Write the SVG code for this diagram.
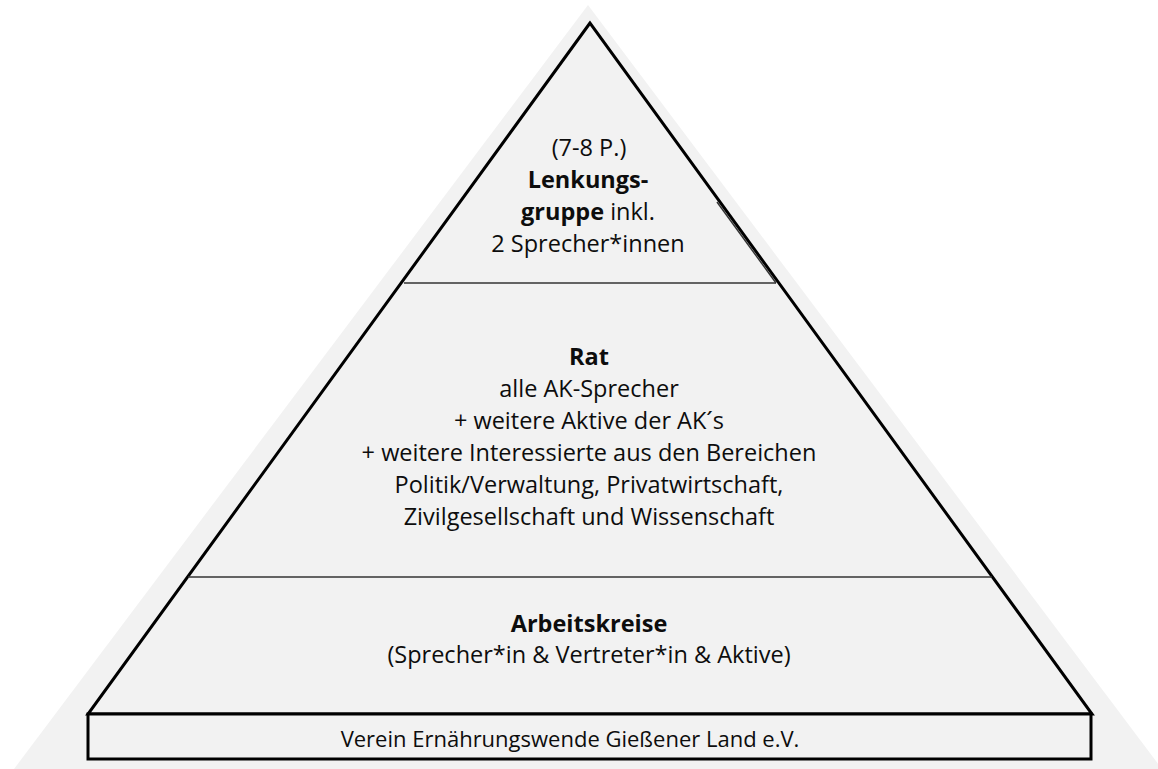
<svg xmlns="http://www.w3.org/2000/svg" width="1158" height="769" viewBox="0 0 1158 769">
  <style>
    .t { font-family: "Open Sans", "Liberation Sans", sans-serif; font-size: 23.5px; fill: #0d0d0d; text-anchor: middle; }
    .b { font-weight: bold; }
    .s { font-size: 22px; }
    .outline { fill: #f2f2f2; stroke: #000; stroke-width: 3; stroke-linejoin: miter; }
    .div { stroke: #333; stroke-width: 1.5; fill: none; }
  </style>
  <rect x="0" y="0" width="1158" height="769" fill="#ffffff"/>
  <polygon id="background" points="588,5 14,769 1162,769" fill="#f2f2f2"/>
  <g id="pyramid">
    <polygon class="outline" points="590,23 88,714 1092,714"/>
  </g>
  <g id="connectors">
    <line class="div" x1="404" y1="283" x2="776" y2="283"/>
    <line class="div" x1="717" y1="202" x2="776" y2="283"/>
    <line class="div" x1="188" y1="577" x2="992" y2="577"/>
  </g>
  <g id="lenkungsgruppe">
    <text class="t" x="589" y="156">(7-8 P.)</text>
    <text class="t b" x="588" y="188">Lenkungs-</text>
    <text class="t" x="588" y="220"><tspan class="b">gruppe</tspan> inkl.</text>
    <text class="t" x="588" y="252">2 Sprecher*innen</text>
  </g>
  <g id="rat">
    <text class="t b" x="589" y="365">Rat</text>
    <text class="t" x="589" y="397">alle AK-Sprecher</text>
    <text class="t" x="589" y="429">+ weitere Aktive der AK´s</text>
    <text class="t" x="589" y="461">+ weitere Interessierte aus den Bereichen</text>
    <text class="t" x="589" y="493">Politik/Verwaltung, Privatwirtschaft,</text>
    <text class="t" x="589" y="525">Zivilgesellschaft und Wissenschaft</text>
  </g>
  <g id="arbeitskreise">
    <text class="t b" x="589" y="632">Arbeitskreise</text>
    <text class="t" x="589" y="663">(Sprecher*in &amp; Vertreter*in &amp; Aktive)</text>
  </g>
  <g id="verein">
    <rect class="outline" x="88" y="714" width="1003" height="45"/>
    <text class="t s" x="570" y="747">Verein Ernährungswende Gießener Land e.V.</text>
  </g>
</svg>
